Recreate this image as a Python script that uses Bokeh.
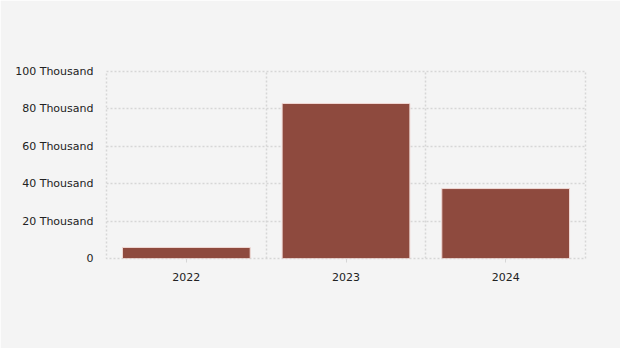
from bokeh.plotting import figure
from bokeh.models import FixedTicker, Range1d, ColumnDataSource
from bokeh.embed import file_html
from bokeh.resources import INLINE

years = ["2022", "2023", "2024"]
values = [5900, 82900, 37400]
y_ticks = [0, 20000, 40000, 60000, 80000, 100000]
y_labels = ["0", "20 Thousand", "40 Thousand", "60 Thousand", "80 Thousand", "100 Thousand"]

xpos = [i + 0.5 for i in range(len(years))]
src = ColumnDataSource(dict(x=xpos, top=values))

p = figure(width=620, height=348, output_backend="svg", toolbar_location=None,
           x_range=Range1d(0, len(years)), y_range=Range1d(0, 100000),
           min_border_left=106, min_border_right=35, min_border_top=71, min_border_bottom=90,
           background_fill_color="#f4f4f4", border_fill_color="#f4f4f4")
p.outline_line_color = "#d6d6d6"
p.outline_line_dash = "2 2"
p.outline_line_width = 1.5

p.vbar(x="x", top="top", width=0.8, source=src, fill_color="#8e4a3e",
       line_color="#f0d8d4", line_width=1)

p.xaxis.ticker = FixedTicker(ticks=xpos)
p.xaxis.major_label_overrides = {x: y for x, y in zip(xpos, years)}
p.yaxis.ticker = FixedTicker(ticks=y_ticks)
p.yaxis.major_label_overrides = {t: l for t, l in zip(y_ticks, y_labels)}

p.xgrid.ticker = FixedTicker(ticks=[0, 1, 2, 3])
for g in (p.xgrid, p.ygrid):
    g.grid_line_color = "#d6d6d6"
    g.grid_line_dash = "2 2"
    g.grid_line_width = 1.5

for ax in (p.xaxis, p.yaxis):
    ax.axis_line_color = None
    ax.minor_tick_line_color = None
    ax.major_label_text_font = "DejaVu Sans"
    ax.major_label_text_font_size = "11px"
    ax.major_label_text_color = "#222222"
p.yaxis.major_tick_line_color = None
p.yaxis.major_label_standoff = 7
p.xaxis.major_tick_line_color = "#d6d6d6"
p.xaxis.major_tick_in = 0
p.xaxis.major_tick_out = 4
p.xaxis.major_label_standoff = 10

open("out.html", "w").write(file_html(p, INLINE))
